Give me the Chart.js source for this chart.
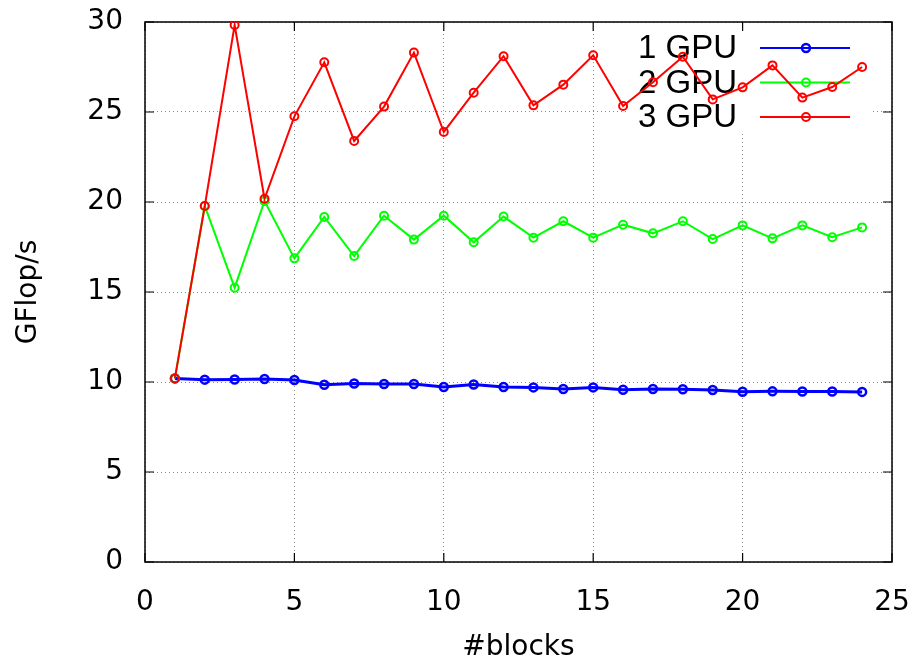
<!DOCTYPE html>
<html>
<head>
<meta charset="utf-8">
<script src="https://cdn.jsdelivr.net/npm/chart.js@4/dist/chart.umd.min.js"></script>
<style>
  html, body { margin: 0; padding: 0; background: #fff; }
  #wrap { width: 917px; height: 662px; }
</style>
</head>
<body>
<div id="wrap"><canvas id="c" width="917" height="662"></canvas></div>
<script>
// ── data ─────────────────────────────────────────────
var blocks = [1,2,3,4,5,6,7,8,9,10,11,12,13,14,15,16,17,18,19,20,21,22,23,24];
var gpu1 = [10.20,10.13,10.14,10.17,10.11,9.85,9.92,9.89,9.89,9.72,9.86,9.72,
            9.70,9.61,9.70,9.57,9.61,9.60,9.56,9.46,9.48,9.47,9.47,9.45];
var gpu2 = [10.20,19.78,15.24,20.06,16.87,19.17,17.00,19.24,17.91,19.24,17.76,19.19,
            18.02,18.93,18.02,18.74,18.26,18.93,17.94,18.70,17.98,18.70,18.04,18.59];
var gpu3 = [10.20,19.78,29.83,20.18,24.76,27.76,23.39,25.30,28.30,23.89,26.07,28.10,
            25.37,26.52,28.15,25.33,26.65,28.07,25.70,26.37,27.59,25.80,26.39,27.50];
var seriesLabels = ['1 GPU', '2 GPU', '3 GPU'];
var seriesColors = ['#0000ff', '#00ff00', '#ff0000'];
var lineWidths   = [3, 2, 2];
var xTicks = [0, 5, 10, 15, 20, 25];
var yTicks = [0, 5, 10, 15, 20, 25, 30];

var AXIS_FONT = { family: "'DejaVu Sans', sans-serif", size: 28, lineHeight: 1 };

function pts(ys) {
  return blocks.map(function (b, i) { return { x: b, y: ys[i] }; });
}

function makeSet(i, ys) {
  return {
    label: seriesLabels[i],
    data: pts(ys),
    borderColor: seriesColors[i],
    backgroundColor: seriesColors[i],
    borderWidth: lineWidths[i],
    pointRadius: 4,
    pointBorderWidth: lineWidths[i] === 3 ? 2.5 : 2,
    pointBackgroundColor: 'rgba(0,0,0,0)',
    pointBorderColor: seriesColors[i],
    tension: 0,
    order: 3 - i   // 3 GPU drawn on top, like gnuplot
  };
}

// ── gnuplot-ish frame, inward ticks and key ──────────
var gnuplotFrame = {
  id: 'gnuplotFrame',
  beforeDatasetsDraw: function (chart) {
    var ctx = chart.ctx, a = chart.chartArea;
    var xs = chart.scales.x, ys = chart.scales.y;
    ctx.save();

    // key area hides the grid
    ctx.fillStyle = '#fff';
    ctx.fillRect(a.right - 264, a.top + 8, 242, 103);

    // key
    ctx.font = '33px "Liberation Sans", Arial, sans-serif';
    ctx.textAlign = 'right';
    ctx.textBaseline = 'middle';
    chart.data.datasets.forEach(function (ds, i) {
      var y = a.top + 26 + i * 34.5;
      ctx.fillStyle = '#000';
      ctx.fillText(ds.label, a.right - 155, y + 1);
      ctx.strokeStyle = ds.borderColor;
      ctx.lineWidth = 2;
      ctx.beginPath();
      ctx.moveTo(a.right - 132, y);
      ctx.lineTo(a.right - 42, y);
      ctx.stroke();
      ctx.lineWidth = ds.pointBorderWidth;
      ctx.beginPath();
      ctx.arc(a.right - 86, y, 4, 0, Math.PI * 2);
      ctx.stroke();
    });

    // border
    ctx.strokeStyle = '#000';
    ctx.lineWidth = 1.5;
    ctx.strokeRect(a.left, a.top, a.right - a.left, a.bottom - a.top);

    // inward ticks on all four sides
    var tl = 9;
    ctx.lineWidth = 1.2;
    ctx.beginPath();
    xTicks.forEach(function (v) {
      var px = xs.getPixelForValue(v);
      ctx.moveTo(px, a.bottom); ctx.lineTo(px, a.bottom - tl);
      ctx.moveTo(px, a.top);    ctx.lineTo(px, a.top + tl);
    });
    yTicks.forEach(function (v) {
      var py = ys.getPixelForValue(v);
      ctx.moveTo(a.left, py);  ctx.lineTo(a.left + tl, py);
      ctx.moveTo(a.right, py); ctx.lineTo(a.right - tl, py);
    });
    ctx.stroke();
    ctx.restore();
  }
};

new Chart(document.getElementById('c').getContext('2d'), {
  type: 'line',
  data: {
    datasets: [makeSet(0, gpu1), makeSet(1, gpu2), makeSet(2, gpu3)]
  },
  options: {
    responsive: false,
    animation: false,
    devicePixelRatio: 1,
    layout: { padding: { top: 22, right: 25, left: 0, bottom: 0 } },
    plugins: {
      legend: { display: false },
      tooltip: { enabled: false }
    },
    scales: {
      x: {
        type: 'linear',
        min: 0, max: 25,
        afterBuildTicks: function (s) { s.ticks = xTicks.map(function (v) { return { value: v }; }); },
        afterFit: function (s) { s.height = 100; s.paddingLeft = 0; s.paddingRight = 0; },
        grid: { color: '#8c8c8c', lineWidth: 1, drawTicks: false },
        border: { display: false, dash: [1, 3] },
        ticks: { font: AXIS_FONT, color: '#000', padding: 27, maxRotation: 0 },
        title: { display: true, text: '#blocks', font: AXIS_FONT, color: '#000', padding: { top: 0, bottom: 0 } }
      },
      y: {
        type: 'linear',
        min: 0, max: 30,
        afterBuildTicks: function (s) { s.ticks = yTicks.map(function (v) { return { value: v }; }); },
        afterFit: function (s) { s.width = 145; s.paddingTop = 0; s.paddingBottom = 0; },
        grid: { color: '#8c8c8c', lineWidth: 1, drawTicks: false },
        border: { display: false, dash: [1, 3] },
        ticks: { font: AXIS_FONT, color: '#000', padding: 22 },
        title: { display: true, text: 'GFlop/s', font: AXIS_FONT, color: '#000', padding: { top: 15, bottom: 0 } }
      }
    }
  },
  plugins: [gnuplotFrame]
});
</script>
</body>
</html>
